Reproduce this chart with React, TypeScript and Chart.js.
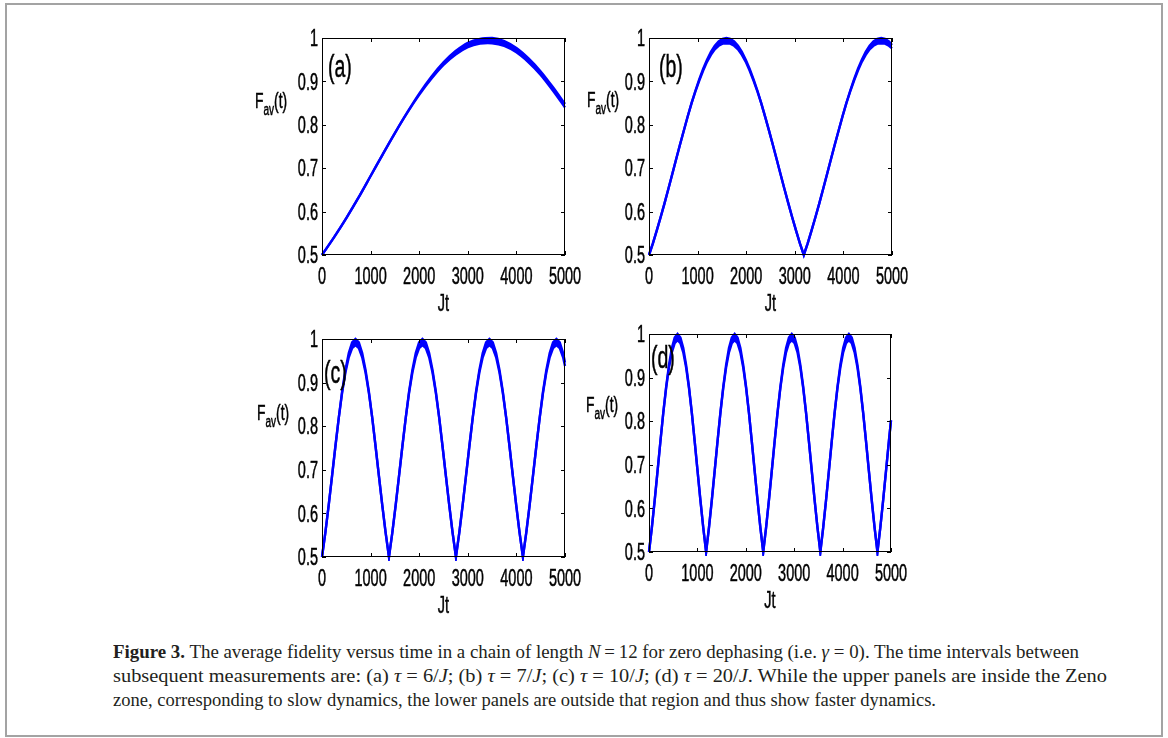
import React, { useEffect, useLayoutEffect, useRef } from "react";
import { Chart, registerables } from "chart.js";

Chart.register(...registerables);

// ---------- tick labels / titles ----------
const xTickValues = [0, 1000, 2000, 3000, 4000, 5000];
const xTickLabels = ["0", "1000", "2000", "3000", "4000", "5000"];
const yTickValues = [0.5, 0.6, 0.7, 0.8, 0.9, 1.0];
const yTickLabels = ["0.5", "0.6", "0.7", "0.8", "0.9", "1"];
const xTitle = "Jt";
const panelLetters = ["(a)", "(b)", "(c)", "(d)"];

// ---------- panel (a): tau = 6/J ----------
const jtA = [0, 250, 500, 750, 1000, 1250, 1500, 1750, 2000, 2250, 2500, 2750, 3000, 3250, 3500, 3750, 4000, 4250, 4500, 4750, 5000];
const favAHi = [0.5, 0.541, 0.585, 0.632, 0.682, 0.732, 0.781, 0.828, 0.872, 0.911, 0.944, 0.97, 0.989, 0.998, 1.0, 0.993, 0.977, 0.953, 0.923, 0.887, 0.848];
const favALo = [0.5, 0.541, 0.585, 0.632, 0.682, 0.732, 0.781, 0.827, 0.869, 0.906, 0.938, 0.962, 0.979, 0.987, 0.988, 0.982, 0.967, 0.944, 0.915, 0.879, 0.84];

// ---------- panel (b): tau = 7/J ----------
const jtB = [0, 80, 159, 239, 319, 398, 478, 557, 637, 717, 796, 876, 956, 1035, 1115, 1194, 1274, 1354, 1433, 1513, 1593, 1672, 1752, 1831, 1911, 1991, 2070, 2150, 2230, 2309, 2389, 2468, 2548, 2628, 2707, 2787, 2867, 2946, 3026, 3105, 3185, 3265, 3344, 3424, 3504, 3583, 3663, 3742, 3822, 3902, 3981, 4061, 4141, 4220, 4300, 4379, 4459, 4539, 4618, 4698, 4778, 4857, 4937, 5000];
const favBHi = [0.5, 0.527, 0.556, 0.587, 0.619, 0.652, 0.686, 0.72, 0.754, 0.787, 0.819, 0.85, 0.879, 0.905, 0.929, 0.95, 0.968, 0.982, 0.992, 0.998, 1.0, 0.998, 0.992, 0.982, 0.968, 0.95, 0.929, 0.905, 0.879, 0.85, 0.819, 0.787, 0.754, 0.72, 0.686, 0.652, 0.619, 0.587, 0.556, 0.527, 0.5, 0.527, 0.556, 0.587, 0.619, 0.652, 0.686, 0.72, 0.754, 0.787, 0.819, 0.85, 0.879, 0.905, 0.929, 0.95, 0.968, 0.982, 0.992, 0.998, 1.0, 0.998, 0.992, 0.984];
const favBLo = [0.5, 0.527, 0.556, 0.587, 0.619, 0.652, 0.686, 0.72, 0.754, 0.787, 0.819, 0.85, 0.877, 0.902, 0.925, 0.945, 0.961, 0.974, 0.982, 0.987, 0.988, 0.987, 0.982, 0.974, 0.961, 0.945, 0.925, 0.902, 0.877, 0.85, 0.819, 0.787, 0.754, 0.72, 0.686, 0.652, 0.619, 0.587, 0.556, 0.527, 0.5, 0.527, 0.556, 0.587, 0.619, 0.652, 0.686, 0.72, 0.754, 0.787, 0.819, 0.85, 0.877, 0.902, 0.925, 0.945, 0.961, 0.974, 0.982, 0.987, 0.988, 0.987, 0.982, 0.976];

// ---------- panel (c): tau = 10/J ----------
const jtC = [0, 69, 138, 207, 276, 345, 413, 482, 551, 620, 689, 758, 827, 896, 965, 1034, 1102, 1171, 1240, 1309, 1378, 1447, 1516, 1585, 1654, 1723, 1791, 1860, 1929, 1998, 2067, 2136, 2205, 2274, 2343, 2412, 2480, 2549, 2618, 2687, 2756, 2825, 2894, 2963, 3032, 3101, 3169, 3238, 3307, 3376, 3445, 3514, 3583, 3652, 3721, 3790, 3858, 3927, 3996, 4065, 4134, 4203, 4272, 4341, 4410, 4479, 4547, 4616, 4685, 4754, 4823, 4892, 4961, 5000];
const favCHi = [0.5, 0.556, 0.619, 0.686, 0.754, 0.819, 0.879, 0.929, 0.968, 0.992, 1.0, 0.992, 0.968, 0.929, 0.879, 0.819, 0.754, 0.686, 0.619, 0.556, 0.5, 0.556, 0.619, 0.686, 0.754, 0.819, 0.879, 0.929, 0.968, 0.992, 1.0, 0.992, 0.968, 0.929, 0.879, 0.819, 0.754, 0.686, 0.619, 0.556, 0.5, 0.556, 0.619, 0.686, 0.754, 0.819, 0.879, 0.929, 0.968, 0.992, 1.0, 0.992, 0.968, 0.929, 0.879, 0.819, 0.754, 0.686, 0.619, 0.556, 0.5, 0.556, 0.619, 0.686, 0.754, 0.819, 0.879, 0.929, 0.968, 0.992, 1.0, 0.992, 0.968, 0.946];
const favCLo = [0.5, 0.556, 0.619, 0.686, 0.754, 0.819, 0.876, 0.923, 0.958, 0.979, 0.986, 0.979, 0.958, 0.923, 0.876, 0.819, 0.754, 0.686, 0.619, 0.556, 0.5, 0.556, 0.619, 0.686, 0.754, 0.819, 0.876, 0.923, 0.958, 0.979, 0.986, 0.979, 0.958, 0.923, 0.876, 0.819, 0.754, 0.686, 0.619, 0.556, 0.5, 0.556, 0.619, 0.686, 0.754, 0.819, 0.876, 0.923, 0.958, 0.979, 0.986, 0.979, 0.958, 0.923, 0.876, 0.819, 0.754, 0.686, 0.619, 0.556, 0.5, 0.556, 0.619, 0.686, 0.754, 0.819, 0.876, 0.923, 0.958, 0.979, 0.986, 0.979, 0.958, 0.938];

// ---------- panel (d): tau = 20/J ----------
const jtD = [0, 59, 118, 177, 236, 295, 354, 413, 472, 531, 590, 649, 708, 767, 826, 885, 944, 1003, 1062, 1121, 1180, 1239, 1298, 1357, 1416, 1475, 1534, 1593, 1652, 1711, 1770, 1829, 1888, 1947, 2006, 2065, 2124, 2183, 2242, 2301, 2360, 2419, 2478, 2537, 2596, 2655, 2714, 2773, 2832, 2891, 2950, 3009, 3068, 3127, 3186, 3245, 3304, 3363, 3422, 3481, 3540, 3599, 3658, 3717, 3776, 3835, 3894, 3953, 4012, 4071, 4130, 4189, 4248, 4307, 4366, 4425, 4484, 4543, 4602, 4661, 4720, 4779, 4838, 4897, 4956, 5000];
const favDHi = [0.5, 0.556, 0.619, 0.686, 0.754, 0.819, 0.879, 0.929, 0.968, 0.992, 1.0, 0.992, 0.968, 0.929, 0.879, 0.819, 0.754, 0.686, 0.619, 0.556, 0.5, 0.556, 0.619, 0.686, 0.754, 0.819, 0.879, 0.929, 0.968, 0.992, 1.0, 0.992, 0.968, 0.929, 0.879, 0.819, 0.754, 0.686, 0.619, 0.556, 0.5, 0.556, 0.619, 0.686, 0.754, 0.819, 0.879, 0.929, 0.968, 0.992, 1.0, 0.992, 0.968, 0.929, 0.879, 0.819, 0.754, 0.686, 0.619, 0.556, 0.5, 0.556, 0.619, 0.686, 0.754, 0.819, 0.879, 0.929, 0.968, 0.992, 1.0, 0.992, 0.968, 0.929, 0.879, 0.819, 0.754, 0.686, 0.619, 0.556, 0.5, 0.556, 0.619, 0.686, 0.754, 0.802];
const favDLo = [0.5, 0.556, 0.619, 0.686, 0.754, 0.819, 0.876, 0.923, 0.958, 0.979, 0.986, 0.979, 0.958, 0.923, 0.876, 0.819, 0.754, 0.686, 0.619, 0.556, 0.5, 0.556, 0.619, 0.686, 0.754, 0.819, 0.876, 0.923, 0.958, 0.979, 0.986, 0.979, 0.958, 0.923, 0.876, 0.819, 0.754, 0.686, 0.619, 0.556, 0.5, 0.556, 0.619, 0.686, 0.754, 0.819, 0.876, 0.923, 0.958, 0.979, 0.986, 0.979, 0.958, 0.923, 0.876, 0.819, 0.754, 0.686, 0.619, 0.556, 0.5, 0.556, 0.619, 0.686, 0.754, 0.819, 0.876, 0.923, 0.958, 0.979, 0.986, 0.979, 0.958, 0.923, 0.876, 0.819, 0.754, 0.686, 0.619, 0.556, 0.5, 0.556, 0.619, 0.686, 0.754, 0.802];

// ---------- layout (page pixels of each plot box) ----------
const PAD = { left: 82, top: 18, right: 30, bottom: 70 };
const panels = [
  { jt: jtA, hi: favAHi, lo: favALo, tension: 0.3, letter: panelLetters[0], box: [322, 38, 565, 255], letterDx: 6, letterDy: 31, yLabDx: -67, yLabDy: 70 },
  { jt: jtB, hi: favBHi, lo: favBLo, tension: 0, letter: panelLetters[1], box: [649, 38, 892, 255], letterDx: 10, letterDy: 31, yLabDx: -62, yLabDy: 69 },
  { jt: jtC, hi: favCHi, lo: favCLo, tension: 0, letter: panelLetters[2], box: [322, 339, 565, 557], letterDx: 2, letterDy: 36, yLabDx: -65, yLabDy: 81 },
  { jt: jtD, hi: favDHi, lo: favDLo, tension: 0, letter: panelLetters[3], box: [649, 334, 891, 552], letterDx: 2, letterDy: 26, yLabDx: -63, yLabDy: 78 },
];

const SANS = '"Liberation Sans", Arial, Helvetica, sans-serif';
const TICK_SIZE = 23;
const SX = 0.63;
const LETTER_SIZE = 31;
const BLUE = "#0000ff";

function drawText(ctx: CanvasRenderingContext2D, s: string, x: number, y: number, size: number, sx: number, align: CanvasTextAlign) {
  ctx.save();
  ctx.translate(x, y);
  ctx.scale(sx, 1);
  ctx.font = `${size}px ${SANS}`;
  ctx.textAlign = align;
  ctx.textBaseline = "alphabetic";
  ctx.fillStyle = "#000";
  ctx.strokeStyle = "#000";
  ctx.lineWidth = 0.5;
  ctx.fillText(s, 0, 0);
  ctx.strokeText(s, 0, 0);
  const w = ctx.measureText(s).width * sx;
  ctx.restore();
  return w;
}

function makeAxesPlugin(p: any) {
  return {
    id: "matlabAxes",
    afterDatasetsDraw(chart: any) {
      const ctx: CanvasRenderingContext2D = chart.ctx;
      const { left, top, right, bottom } = chart.chartArea;
      const xs = chart.scales.x;
      const ys = chart.scales.y;
      ctx.save();
      ctx.strokeStyle = "#000";
      ctx.lineWidth = 1;
      ctx.strokeRect(left + 0.5, top + 0.5, right - left - 1, bottom - top - 1);
      const TL = 4;
      ctx.beginPath();
      xTickValues.forEach((v) => {
        const px = Math.round(xs.getPixelForValue(v)) + 0.5;
        ctx.moveTo(px, bottom);
        ctx.lineTo(px, bottom - TL);
        ctx.moveTo(px, top);
        ctx.lineTo(px, top + TL);
      });
      yTickValues.forEach((v) => {
        const py = Math.round(ys.getPixelForValue(v)) + 0.5;
        ctx.moveTo(left, py);
        ctx.lineTo(left + TL, py);
        ctx.moveTo(right, py);
        ctx.lineTo(right - TL, py);
      });
      ctx.stroke();
      ctx.restore();

      const half = 0.358 * TICK_SIZE;
      xTickValues.forEach((v, i) => {
        drawText(ctx, xTickLabels[i], xs.getPixelForValue(v), bottom + 21 + half, TICK_SIZE, SX, "center");
      });
      yTickValues.forEach((v, i) => {
        drawText(ctx, yTickLabels[i], left - 4, ys.getPixelForValue(v) + half, TICK_SIZE, SX, "right");
      });
      drawText(ctx, xTitle, (left + right) / 2, bottom + 48 + half, TICK_SIZE, SX, "center");

      // y label F_av(t)
      let x = left + p.yLabDx;
      const by = top + p.yLabDy;
      x += drawText(ctx, "F", x, by, TICK_SIZE - 1, SX, "left");
      x += drawText(ctx, "av", x, by + 7, 16, SX, "left");
      drawText(ctx, "(t)", x, by, TICK_SIZE - 1, SX, "left");

      // panel letter
      drawText(ctx, p.letter, left + p.letterDx, top + p.letterDy + 0.26 * LETTER_SIZE, LETTER_SIZE, SX, "left");
    },
  };
}

function Panel({ p }: { p: any }) {
  const ref = useRef<HTMLCanvasElement | null>(null);
  const [L, T, R, B] = p.box;
  const w = R - L + PAD.left + PAD.right;
  const h = B - T + PAD.top + PAD.bottom;
  useEffect(() => {
    if (!ref.current) return;
    const hiPts = p.jt.map((t: number, i: number) => ({ x: t, y: p.hi[i] }));
    const loPts = p.jt.map((t: number, i: number) => ({ x: t, y: p.lo[i] }));
    const chart = new Chart(ref.current, {
      type: "line",
      data: {
        datasets: [
          { data: hiPts, borderColor: BLUE, borderWidth: 2.4, pointRadius: 0, tension: p.tension, fill: false, clip: 4 } as any,
          { data: loPts, borderColor: BLUE, borderWidth: 2.4, pointRadius: 0, tension: p.tension, fill: "-1", backgroundColor: BLUE, clip: 4 } as any,
        ],
      },
      options: {
        animation: false,
        responsive: false,
        devicePixelRatio: 1,
        layout: { padding: PAD },
        scales: {
          x: { type: "linear", min: 0, max: 5000, display: false },
          y: { type: "linear", min: 0.5, max: 1.0, display: false },
        },
        plugins: { legend: { display: false }, tooltip: { enabled: false } },
        events: [],
      },
      plugins: [makeAxesPlugin(p)],
    });
    return () => chart.destroy();
  }, []);
  return (
    <canvas
      ref={ref}
      width={w}
      height={h}
      style={{ position: "absolute", left: L - PAD.left, top: T - PAD.top, width: w, height: h }}
    />
  );
}

const captionTargets = [966, 994, 823];

export default function App() {
  const lineRefs = [useRef<HTMLSpanElement | null>(null), useRef<HTMLSpanElement | null>(null), useRef<HTMLSpanElement | null>(null)];
  useLayoutEffect(() => {
    lineRefs.forEach((r, i) => {
      const el = r.current;
      if (!el) return;
      el.style.transform = "none";
      const wid = el.getBoundingClientRect().width;
      if (wid > 0) el.style.transform = `scaleX(${captionTargets[i] / wid})`;
    });
  }, []);
  const lineStyle: React.CSSProperties = {
    display: "inline-block",
    whiteSpace: "nowrap",
    transformOrigin: "0 0",
  };
  return (
    <div style={{ position: "absolute", left: 0, top: 0, width: 1168, height: 738, background: "#fff", overflow: "hidden" }}>
      <div style={{ position: "absolute", left: 5, top: 3, width: 1158, height: 734, border: "2px solid #a3a3a3", boxSizing: "border-box" }} />
      {panels.map((p, i) => (
        <Panel key={i} p={p} />
      ))}
      <div
        style={{
          position: "absolute",
          left: 113,
          top: 640,
          fontFamily: '"Liberation Serif", "Times New Roman", serif',
          fontSize: 19.5,
          lineHeight: "24px",
          color: "#231f20",
        }}
      >
        <div style={{ height: 24 }}>
          <span ref={lineRefs[0]} style={lineStyle}>
            <b>Figure 3.</b> The average fidelity versus time in a chain of length <i>N</i>&thinsp;=&thinsp;12 for zero dephasing (i.e. <i>γ</i> = 0). The time intervals between
          </span>
        </div>
        <div style={{ height: 24 }}>
          <span ref={lineRefs[1]} style={lineStyle}>
            subsequent measurements are: (a) <i>τ</i> = 6/<i>J</i>; (b) <i>τ</i> = 7/<i>J</i>; (c) <i>τ</i> = 10/<i>J</i>; (d) <i>τ</i> = 20/<i>J</i>. While the upper panels are inside the Zeno
          </span>
        </div>
        <div style={{ height: 24 }}>
          <span ref={lineRefs[2]} style={lineStyle}>
            zone, corresponding to slow dynamics, the lower panels are outside that region and thus show faster dynamics.
          </span>
        </div>
      </div>
    </div>
  );
}
